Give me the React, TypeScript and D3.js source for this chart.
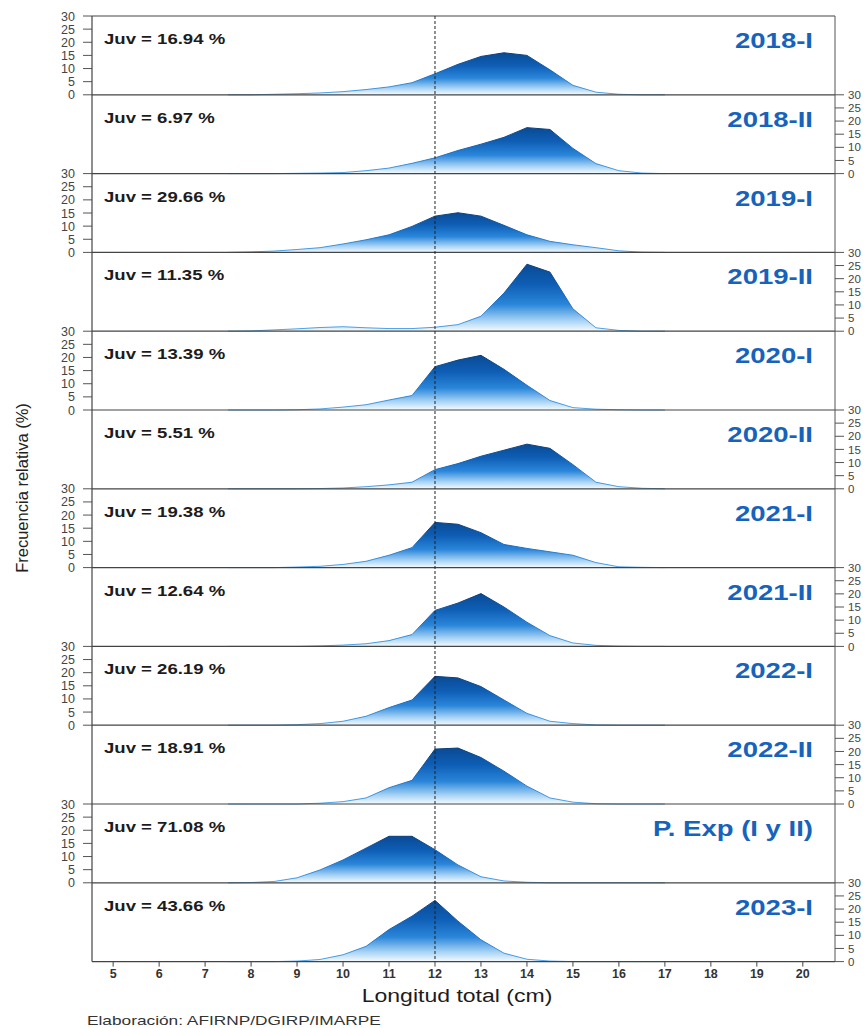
import React from "react";
import * as d3 from "d3";

// Length classes (cm), 0.5 cm steps
const lengthClasses: number[] = [7.5, 8, 8.5, 9, 9.5, 10, 10.5, 11, 11.5, 12, 12.5, 13, 13.5, 14, 14.5, 15, 15.5, 16, 16.5, 17];

// Relative frequency (%) per length class, one array per period
const f2018I: number[] = [0, 0, 0.2, 0.4, 0.7, 1.2, 2.0, 3.0, 4.6, 8.0, 11.6, 14.6, 16.0, 15.0, 9.5, 3.6, 1.0, 0.2, 0, 0];
const f2018II: number[] = [0, 0, 0, 0.1, 0.2, 0.4, 1.1, 2.1, 3.9, 6.0, 8.8, 11.2, 13.8, 17.5, 16.8, 9.6, 3.8, 1.1, 0.2, 0];
const f2019I: number[] = [0, 0.2, 0.5, 1.1, 1.8, 3.2, 4.8, 6.7, 9.9, 13.8, 15.1, 13.8, 10.3, 6.7, 4.2, 2.9, 1.8, 0.6, 0.1, 0];
const f2019II: number[] = [0, 0.1, 0.5, 0.9, 1.4, 1.7, 1.3, 1.0, 1.0, 1.5, 2.5, 5.7, 14.5, 25.5, 22.5, 8.5, 1.3, 0.3, 0, 0];
const f2020I: number[] = [0, 0, 0, 0.1, 0.4, 1.1, 2.0, 3.8, 5.5, 16.5, 19.0, 20.8, 15.5, 9.4, 3.6, 0.9, 0.3, 0.1, 0, 0];
const f2020II: number[] = [0, 0, 0, 0, 0.1, 0.3, 0.8, 1.5, 2.5, 7.3, 9.6, 12.4, 14.7, 17.0, 15.4, 9.2, 2.5, 0.8, 0.2, 0];
const f2021I: number[] = [0, 0, 0, 0.2, 0.5, 1.2, 2.4, 4.7, 7.6, 17.2, 16.5, 13.3, 8.8, 7.3, 6.0, 4.7, 1.9, 0.3, 0.1, 0];
const f2021II: number[] = [0, 0, 0, 0, 0.2, 0.5, 1.0, 2.2, 4.5, 13.7, 16.5, 20.1, 15.0, 9.2, 4.1, 1.3, 0.4, 0.1, 0, 0];
const f2022I: number[] = [0, 0, 0, 0.2, 0.6, 1.5, 3.4, 6.7, 9.6, 18.6, 18.0, 14.7, 9.6, 4.5, 1.5, 0.6, 0.1, 0, 0, 0];
const f2022II: number[] = [0, 0, 0, 0, 0.3, 0.9, 2.3, 6.2, 9.0, 20.9, 21.3, 17.7, 12.5, 6.8, 2.3, 0.7, 0.1, 0, 0, 0];
const fPExp: number[] = [0, 0.1, 0.5, 1.9, 4.9, 8.7, 13.2, 17.7, 17.7, 12.6, 6.8, 2.3, 0.7, 0.2, 0, 0, 0, 0, 0, 0];
const f2023I: number[] = [0, 0, 0, 0.2, 0.8, 2.6, 5.8, 12.2, 17.3, 23.3, 15.4, 8.3, 3.2, 0.9, 0.2, 0, 0, 0, 0, 0];

const periods: string[] = ["2018-I", "2018-II", "2019-I", "2019-II", "2020-I", "2020-II", "2021-I", "2021-II", "2022-I", "2022-II", "P. Exp (I y II)", "2023-I"];
const juvenilePct: string[] = ["16.94", "6.97", "29.66", "11.35", "13.39", "5.51", "19.38", "12.64", "26.19", "18.91", "71.08", "43.66"];
const series: number[][] = [f2018I, f2018II, f2019I, f2019II, f2020I, f2020II, f2021I, f2021II, f2022I, f2022II, fPExp, f2023I];

const xTickValues: number[] = [5, 6, 7, 8, 9, 10, 11, 12, 13, 14, 15, 16, 17, 18, 19, 20];
const juvenileCut = 12;

const W = 865;
const H = 1028;
const left = 92;
const right = 835;
const top = 16;
const panelH = 78.8;
const font = "'Liberation Sans', Arial, sans-serif";
// the lettering of this figure is set slightly wide
const WIDE = 1.28;

type WideProps = {
  x: number;
  y: number;
  size: number;
  anchor?: "start" | "middle" | "end";
  weight?: string;
  fill: string;
  children: React.ReactNode;
};

function WideText({ x, y, size, anchor = "start", weight = "normal", fill, children }: WideProps) {
  return (
    <text
      transform={`translate(${x},${y}) scale(${WIDE},1)`}
      fontSize={size}
      fontWeight={weight}
      fill={fill}
      textAnchor={anchor}
    >
      {children}
    </text>
  );
}

export default function App() {
  const x = d3.scaleLinear().domain([4.54, 20.7]).range([left, right]);
  const bottom = top + panelH * periods.length;

  return (
    <svg
      width={W}
      height={H}
      viewBox={`0 0 ${W} ${H}`}
      style={{ position: "absolute", left: 0, top: 0, background: "#fff" }}
      fontFamily={font}
    >
      <defs>
        <linearGradient id="fillGrad" x1="0" y1="0" x2="0" y2="1">
          <stop offset="0" stopColor="#0a4a94" />
          <stop offset="0.3" stopColor="#0e5eb5" />
          <stop offset="0.6" stopColor="#2a86da" />
          <stop offset="0.84" stopColor="#a6d2f5" />
          <stop offset="1" stopColor="#f6fbff" />
        </linearGradient>
        <linearGradient id="lineGrad" x1="0" y1="0" x2="0" y2="1">
          <stop offset="0" stopColor="#0a3d78" />
          <stop offset="0.5" stopColor="#1668bf" />
          <stop offset="1" stopColor="#4fa6ea" />
        </linearGradient>
      </defs>

      {periods.map((name, i) => {
        const pTop = top + i * panelH;
        const y = d3.scaleLinear().domain([0, 30]).range([pTop + panelH, pTop]);
        const pts = lengthClasses.map((len, k) => ({ len, v: series[i][k] }));
        const area = d3
          .area<{ len: number; v: number }>()
          .x((d) => x(d.len))
          .y0(y(0))
          .y1((d) => y(d.v));
        const line = d3
          .line<{ len: number; v: number }>()
          .x((d) => x(d.len))
          .y((d) => y(d.v));
        const onLeft = i % 2 === 0;
        const ticks = y.ticks(6);
        return (
          <g key={name}>
            <path d={area(pts) || ""} fill="url(#fillGrad)" />
            <path d={line(pts) || ""} fill="none" stroke="url(#lineGrad)" strokeWidth={1} />
            {ticks.map((t) => (
              <g key={t}>
                <line
                  x1={onLeft ? left - 9 : right}
                  x2={onLeft ? left : right + 9}
                  y1={y(t)}
                  y2={y(t)}
                  stroke="#555"
                  strokeWidth={1}
                />
                <text
                  x={onLeft ? left - 17 : right + 13}
                  y={y(t)}
                  dy="0.36em"
                  textAnchor={onLeft ? "end" : "start"}
                  fontSize={onLeft ? 12.5 : 11.5}
                  fill="#444"
                >
                  {t}
                </text>
              </g>
            ))}
            <WideText x={104} y={pTop + 28} size={14.5} weight="bold" fill="#1c1c1c">
              {`Juv = ${juvenilePct[i]} %`}
            </WideText>
            <WideText x={813} y={pTop + 32} size={21.5} weight="bold" fill="#1763bc" anchor="end">
              {name}
            </WideText>
          </g>
        );
      })}

      {/* panel separators and frame */}
      {d3.range(periods.length + 1).map((i) => (
        <line
          key={i}
          x1={left}
          x2={right}
          y1={top + i * panelH}
          y2={top + i * panelH}
          stroke="#444"
          strokeWidth={1.2}
        />
      ))}
      <line x1={left} x2={left} y1={top} y2={bottom} stroke="#444" strokeWidth={1.2} />
      <line x1={right} x2={right} y1={top} y2={bottom} stroke="#555" strokeWidth={1} />

      {/* juvenile size threshold */}
      <line
        x1={x(juvenileCut)}
        x2={x(juvenileCut)}
        y1={top}
        y2={bottom}
        stroke="#222"
        strokeWidth={1}
        strokeDasharray="3,2"
      />

      {/* x axis */}
      {xTickValues.map((t) => (
        <g key={t}>
          <line x1={x(t)} x2={x(t)} y1={bottom} y2={bottom + 5} stroke="#444" />
          <text x={x(t)} y={bottom + 16} fontSize={12.5} fontWeight="bold" fill="#333" textAnchor="middle">
            {t}
          </text>
        </g>
      ))}
      <WideText x={457} y={1002} size={18} fill="#1c1c1c" anchor="middle">
        Longitud total (cm)
      </WideText>
      <text
        transform={`translate(28, 488) rotate(-90)`}
        fontSize={16.5}
        fill="#222"
        textAnchor="middle"
      >
        Frecuencia relativa (%)
      </text>
      <WideText x={87} y={1025} size={13.5} fill="#333">
        Elaboración: AFIRNP/DGIRP/IMARPE
      </WideText>
    </svg>
  );
}
